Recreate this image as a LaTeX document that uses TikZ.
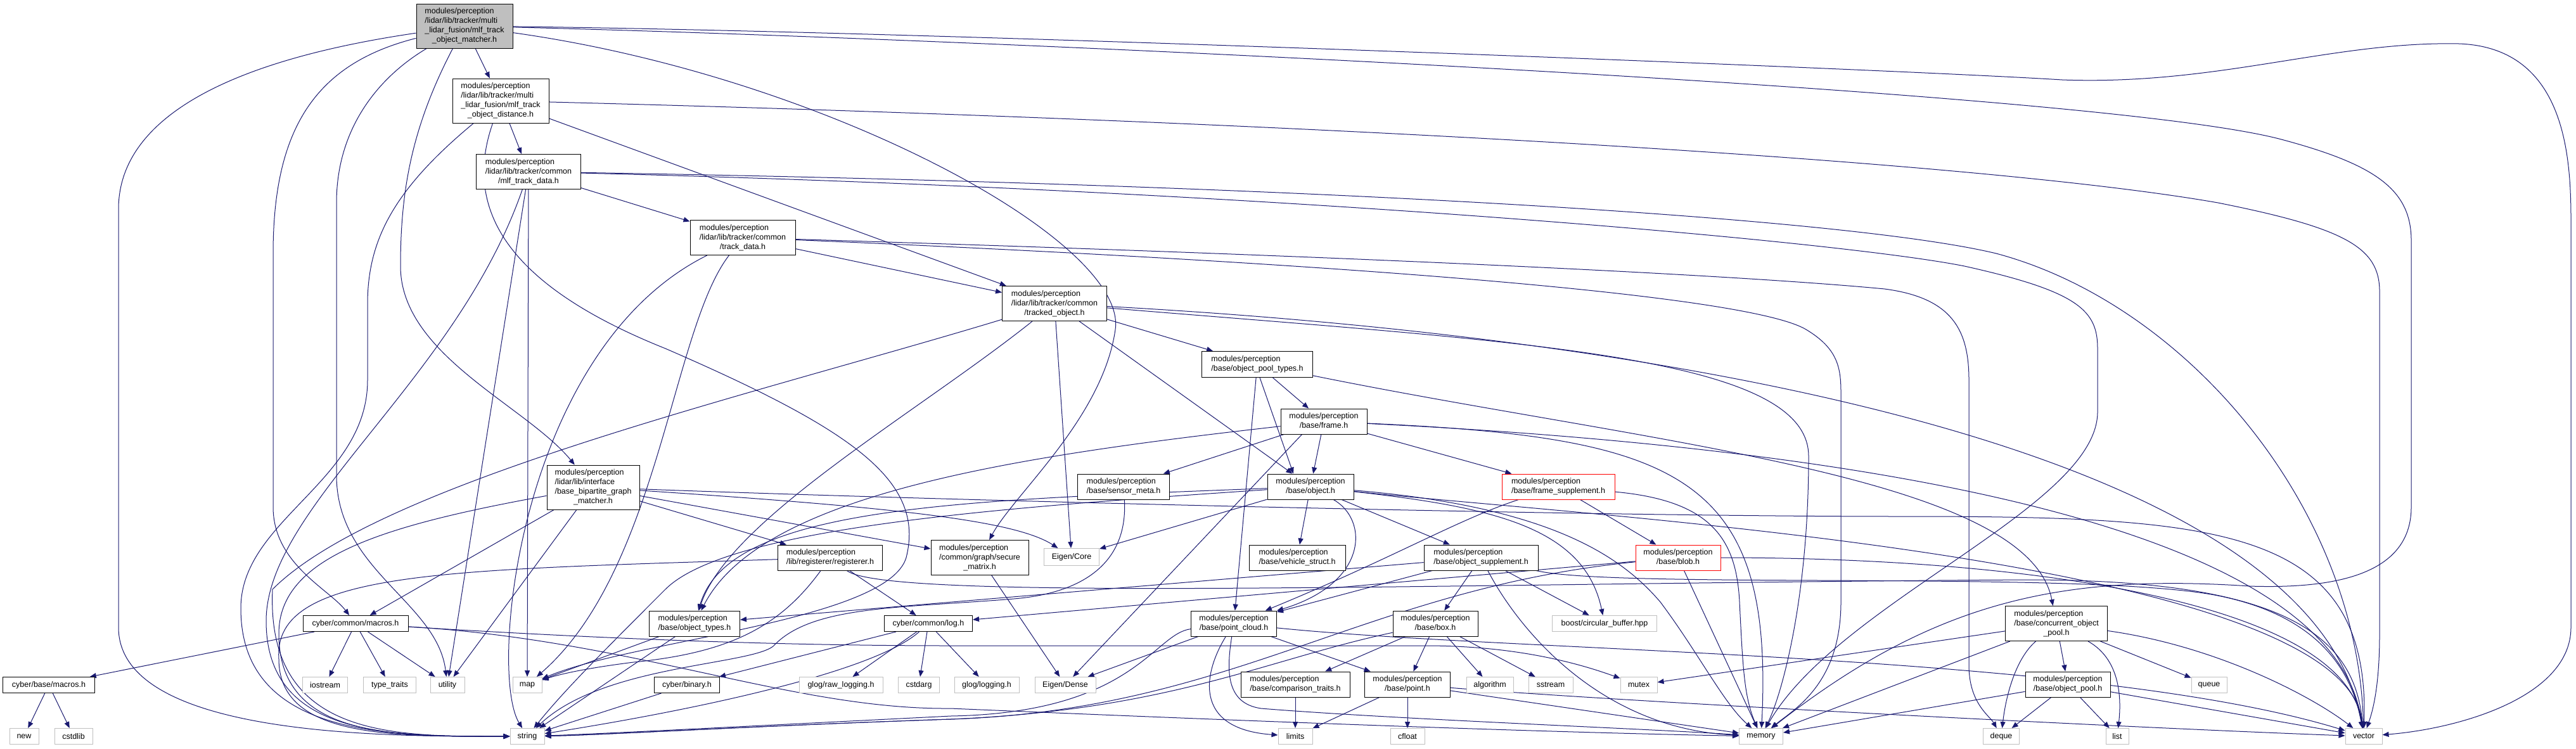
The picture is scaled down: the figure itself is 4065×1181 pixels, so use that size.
\documentclass[tikz,border=0pt]{standalone}
\usepackage{fontspec}
\setmainfont{Liberation Sans}
\usetikzlibrary{arrows.meta,backgrounds}
\definecolor{edgec}{HTML}{191970}
\definecolor{grayb}{HTML}{BFBFBF}
\newcommand{\nlab}[2]{\begin{tabular}{@{}l@{}}#1\\\multicolumn{1}{@{}c@{}}{#2}\end{tabular}}
\tikzset{
  nd/.style={draw=black, fill=white, line width=1pt, inner sep=0pt, minimum height=25pt,
    font=\fontsize{12.5}{15}\selectfont, text=black},
  sys/.style={nd, draw=grayb},
  trunc/.style={nd, draw=red},
  rootn/.style={nd, fill=grayb},
  edg/.style={draw=edgec, line width=1pt, -{Triangle[length=10pt,width=8pt]}}
}
\begin{document}
\begin{tikzpicture}[x=1pt,y=-1pt]
\useasboundingbox (0,0) rectangle (4065,1181);
% ---------- nodes ----------
\node[rootn, minimum width=152pt, minimum height=70pt] (root) at (733,41) {\nlab{modules/perception\\/lidar/lib/tracker/multi\\\_lidar\_fusion/mlf\_track}{\_object\_matcher.h}};
\node[nd, minimum width=152pt, minimum height=70pt] (dist) at (790,159) {\nlab{modules/perception\\/lidar/lib/tracker/multi\\\_lidar\_fusion/mlf\_track}{\_object\_distance.h}};
\node[nd, minimum width=165pt, minimum height=55pt] (mtd) at (834,271) {\nlab{modules/perception\\/lidar/lib/tracker/common}{/mlf\_track\_data.h}};
\node[nd, minimum width=166pt, minimum height=55pt] (td) at (1172,375) {\nlab{modules/perception\\/lidar/lib/tracker/common}{/track\_data.h}};
\node[nd, minimum width=165pt, minimum height=55pt] (tobj) at (1664,479) {\nlab{modules/perception\\/lidar/lib/tracker/common}{/tracked\_object.h}};
\node[nd, minimum width=175pt, minimum height=41pt] (opt) at (1984,575) {\nlab{modules/perception}{/base/object\_pool\_types.h}};
\node[nd, minimum width=136pt, minimum height=40pt] (frame) at (2089,665) {\nlab{modules/perception}{/base/frame.h}};
\node[nd, minimum width=145pt, minimum height=40pt] (smeta) at (1773,768) {\nlab{modules/perception}{/base/sensor\_meta.h}};
\node[nd, minimum width=136pt, minimum height=40pt] (obj) at (2068,768) {\nlab{modules/perception}{/base/object.h}};
\node[trunc, minimum width=178pt, minimum height=40pt] (fsup) at (2459,768) {\nlab{modules/perception}{/base/frame\_supplement.h}};
\node[nd, minimum width=146pt, minimum height=70pt] (bgm) at (936,769) {\nlab{modules/perception\\/lidar/lib/interface\\/base\_bipartite\_graph}{\_matcher.h}};
\node[nd, minimum width=165pt, minimum height=40pt] (reg) at (1310,880) {\nlab{modules/perception}{/lib/registerer/registerer.h}};
\node[nd, minimum width=154pt, minimum height=55pt] (secm) at (1546,880) {\nlab{modules/perception\\/common/graph/secure}{\_matrix.h}};
\node[sys, minimum width=87pt, minimum height=27pt] (ecore) at (1691,879) {Eigen/Core};
\node[nd, minimum width=152pt, minimum height=40pt] (vstruct) at (2047,880) {\nlab{modules/perception}{/base/vehicle\_struct.h}};
\node[nd, minimum width=180pt, minimum height=40pt] (osup) at (2337,880) {\nlab{modules/perception}{/base/object\_supplement.h}};
\node[trunc, minimum width=134pt, minimum height=40pt] (blob) at (2648,880) {\nlab{modules/perception}{/base/blob.h}};
\node[nd, minimum width=166pt] (cmacros) at (561,984) {cyber/common/macros.h};
\node[nd, minimum width=143pt, minimum height=40pt] (otypes) at (1096,984) {\nlab{modules/perception}{/base/object\_types.h}};
\node[nd, minimum width=139pt] (log) at (1465,984) {cyber/common/log.h};
\node[nd, minimum width=135pt, minimum height=40pt] (pcl) at (1947,984) {\nlab{modules/perception}{/base/point\_cloud.h}};
\node[nd, minimum width=134pt, minimum height=40pt] (box) at (2265,984) {\nlab{modules/perception}{/base/box.h}};
\node[sys, minimum width=165pt] (cbuf) at (2532,984) {boost/circular\_buffer.hpp};
\node[nd, minimum width=161pt, minimum height=55pt] (cop) at (3245,984) {\nlab{modules/perception\\/base/concurrent\_object}{\_pool.h}};
\node[nd, minimum width=145pt] (bmacros) at (77,1081) {cyber/base/macros.h};
\node[sys, minimum width=71pt] (iostream) at (513,1081) {iostream};
\node[sys, minimum width=83pt] (ttraits) at (615,1081) {type\_traits};
\node[sys, minimum width=54pt] (utility) at (706,1081) {utility};
\node[sys, minimum width=46pt] (map) at (832,1081) {map};
\node[nd, minimum width=103pt] (binary) at (1084,1081) {cyber/binary.h};
\node[sys, minimum width=132pt] (rawlog) at (1327,1081) {glog/raw\_logging.h};
\node[sys, minimum width=65pt] (cstdarg) at (1450,1081) {cstdarg};
\node[sys, minimum width=102pt] (glog) at (1557,1081) {glog/logging.h};
\node[sys, minimum width=96pt] (edense) at (1681,1081) {Eigen/Dense};
\node[nd, minimum width=172pt, minimum height=40pt] (ctraits) at (2044,1080) {\nlab{modules/perception}{/base/comparison\_traits.h}};
\node[nd, minimum width=135pt, minimum height=40pt] (point) at (2221,1080) {\nlab{modules/perception}{/base/point.h}};
\node[sys, minimum width=74pt] (algo) at (2351,1081) {algorithm};
\node[sys, minimum width=70pt] (sstream) at (2447,1081) {sstream};
\node[sys, minimum width=58pt] (mutex) at (2586,1081) {mutex};
\node[nd, minimum width=134pt, minimum height=40pt] (opool) at (3263,1080) {\nlab{modules/perception}{/base/object\_pool.h}};
\node[sys, minimum width=56pt] (queue) at (3486,1081) {queue};
\node[sys, minimum width=46pt] (new) at (38,1162) {new};
\node[sys, minimum width=60pt] (cstdlib) at (116,1162) {cstdlib};
\node[sys, minimum width=54pt] (string) at (832,1162) {string};
\node[sys, minimum width=54pt] (limits) at (2044,1162) {limits};
\node[sys, minimum width=54pt] (cfloat) at (2221,1162) {cfloat};
\node[sys, minimum width=69pt] (memory) at (2779,1162) {memory};
\node[sys, minimum width=57pt] (deque) at (3158,1162) {deque};
\node[sys, minimum width=36pt] (list) at (3341,1162) {list};
\node[sys, minimum width=58pt] (vector) at (3730,1162) {vector};
% ---------- edges ----------
\begin{pgfonlayer}{background}
\fill[white] (0,0) rectangle (4065,1181);
% root
\draw[edg] (root) .. controls (330,100) and (187,200) .. (187,330) -- (187,990) .. controls (187,1165) and (620,1162) .. (string);
\draw[edg] (root) .. controls (500,100) and (431,200) .. (431,400) -- (431,800) .. controls (431,890) and (520,930) .. (cmacros);
\draw[edg] (root) .. controls (600,120) and (531,200) .. (531,320) -- (531,750) .. controls (531,900) and (690,950) .. (utility);
\draw[edg] (root) .. controls (650,200) and (632,300) .. (632,420) .. controls (632,560) and (830,640) .. (bgm);
\draw[edg] (root) -- (dist);
\draw[edg] (root) .. controls (1500,50) and (3000,110) .. (3254,126) .. controls (3500,135) and (3680,65) .. (3880,69) .. controls (4050,75) and (4057,250) .. (4057,350) -- (4057,990) .. controls (4057,1100) and (3880,1150) .. (vector);
\draw[edg] (root) .. controls (1500,60) and (3300,140) .. (3600,220) .. controls (3750,260) and (3805,300) .. (3805,380) -- (3805,800) .. controls (3805,900) and (3700,930) .. (3550,925) .. controls (3250,905) and (3050,950) .. (memory);
\draw[edg] (root) .. controls (1300,120) and (1780,380) .. (1760,520) .. controls (1740,660) and (1600,780) .. (secm);
% dist
\draw[edg] (dist) -- (mtd);
\draw[edg] (dist) -- (tobj);
\draw[edg] (dist) .. controls (2000,190) and (3100,250) .. (3500,320) .. controls (3700,360) and (3755,390) .. (3755,460) -- (3755,1000) .. controls (3755,1080) and (3745,1120) .. (vector);
\draw[edg] (dist) .. controls (620,300) and (580,380) .. (580,480) -- (580,600) .. controls (580,760) and (380,820) .. (380,960) .. controls (380,1165) and (620,1162) .. (string);
\draw[edg] (dist) .. controls (730,330) and (800,450) .. (1050,550) .. controls (1350,680) and (1460,760) .. (1430,880) .. controls (1400,980) and (1000,1010) .. (map);
% mlf_track_data
\draw[edg] (mtd) -- (td);
\draw[edg] (mtd) .. controls (2000,290) and (2900,340) .. (3150,400) .. controls (3450,480) and (3720,800) .. (vector);
\draw[edg] (mtd) .. controls (2000,300) and (2900,380) .. (3100,420) .. controls (3280,460) and (3310,490) .. (3310,550) -- (3310,650) .. controls (3310,800) and (2900,950) .. (memory);
\draw[edg] (mtd) .. controls (720,600) and (420,800) .. (420,980) .. controls (420,1165) and (620,1162) .. (string);
\draw[edg] (mtd) -- (utility);
\draw[edg] (mtd) -- (map);
% track_data
\draw[edg] (td) -- (tobj);
\draw[edg] (td) .. controls (2000,400) and (2700,430) .. (2974,456) .. controls (3080,470) and (3107,520) .. (3107,600) -- (3107,1050) .. controls (3107,1110) and (3140,1130) .. (deque);
\draw[edg] (td) .. controls (2000,410) and (2750,460) .. (2850,520) .. controls (2900,550) and (2905,580) .. (2905,620) -- (2905,950) .. controls (2905,1080) and (2830,1120) .. (memory);
\draw[edg] (td) .. controls (820,550) and (770,1060) .. (string);
\draw[edg] (td) .. controls (1060,520) and (1040,900) .. (map);
% tracked_object
\draw[edg] (tobj) -- (opt);
\draw[edg] (tobj) -- (obj);
\draw[edg] (tobj) -- (ecore);
\draw[edg] (tobj) .. controls (1450,650) and (1150,820) .. (otypes);
\draw[edg] (tobj) .. controls (1200,620) and (600,760) .. (430,930) .. controls (420,1165) and (620,1162) .. (string);
\draw[edg] (tobj) .. controls (2400,540) and (2854,560) .. (2854,720) .. controls (2854,950) and (2810,1100) .. (memory);
\draw[edg] (tobj) .. controls (2600,530) and (3650,700) .. (vector);
% object_pool_types
\draw[edg] (opt) -- (frame);
\draw[edg] ([xshift=4pt]opt.south) -- ([xshift=-27pt]obj.north);
\draw[edg] (opt) -- (pcl);
\draw[edg] (opt) .. controls (2600,700) and (3200,750) .. (cop);
% frame
\draw[edg] (frame) -- (smeta);
\draw[edg] (frame) -- (obj);
\draw[edg] (frame) -- (fsup);
\draw[edg] ([xshift=34pt]frame.south west) -- (edense);
\draw[edg] (frame) .. controls (1600,720) and (1200,780) .. (otypes);
\draw[edg] (frame) .. controls (2650,690) and (2800,750) .. (memory);
\draw[edg] (frame) .. controls (2800,700) and (3680,800) .. (vector);
% sensor_meta
\draw[edg] (smeta) .. controls (1780,880) and (1720,935) .. (1600,945) .. controls (1420,960) and (1280,955) .. (1220,1020) .. controls (1180,1050) and (950,1050) .. (string);
% object
\draw[edg] (obj) .. controls (1500,790) and (1150,800) .. (otypes);
\draw[edg] (obj) .. controls (1600,800) and (1150,830) .. (1050,930) .. controls (950,1030) and (890,1090) .. (string);
\draw[edg] (obj) -- (ecore);
\draw[edg] (obj) -- (vstruct);
\draw[edg] (obj) .. controls (2160,820) and (2160,920) .. (pcl);
\draw[edg] (obj) -- (osup);
\draw[edg] (obj) .. controls (2350,800) and (2500,830) .. (cbuf);
\draw[edg] (obj) .. controls (2450,800) and (2560,880) .. (2620,950) .. controls (2680,1030) and (2720,1110) .. (memory);
\draw[edg] (obj) .. controls (2500,815) and (3700,880) .. (vector);
% frame_supplement
\draw[edg] (fsup) .. controls (2300,820) and (2200,880) .. (pcl);
\draw[edg] (fsup) -- (blob);
\draw[edg] (fsup) .. controls (2700,790) and (2740,850) .. (2745,950) .. controls (2750,1050) and (2752,1100) .. (memory);
% blob
\draw[edg] (blob) -- (log);
\draw[edg] (blob) .. controls (2150,930) and (1950,1120) .. (1500,1135) .. controls (1200,1145) and (950,1160) .. (string);
\draw[edg] (blob) -- (memory);
\draw[edg] (blob) .. controls (3200,880) and (3700,950) .. (vector);
% secure_matrix
\draw[edg] (secm) -- (edense);
% bipartite
\draw[edg] (bgm) -- (cmacros);
\draw[edg] (bgm) .. controls (600,830) and (440,880) .. (440,1000) .. controls (440,1165) and (620,1162) .. (string);
\draw[edg] (bgm) -- (utility);
\draw[edg] (bgm) -- (reg);
\draw[edg] (bgm) -- (secm);
\draw[edg] (bgm) .. controls (1400,800) and (1600,820) .. (ecore);
\draw[edg] (bgm) .. controls (1500,790) and (2500,815) .. (3000,815) .. controls (3500,815) and (3740,830) .. (vector);
% registerer
\draw[edg] (reg) .. controls (700,900) and (430,900) .. (440,1040) .. controls (440,1165) and (620,1162) .. (string);
\draw[edg] (reg) .. controls (1230,990) and (1150,1030) .. (1000,1045) .. controls (920,1055) and (880,1065) .. (map);
\draw[edg] (reg) -- (log);
\draw[edg] (reg) .. controls (1400,950) and (2300,920) .. (3200,915) .. controls (3600,915) and (3715,1000) .. (vector);
% cyber/common/macros.h
\draw[edg] (cmacros) -- (bmacros);
\draw[edg] (cmacros) -- (iostream);
\draw[edg] (cmacros) -- (ttraits);
\draw[edg] (cmacros) -- (utility);
\draw[edg] (cmacros) .. controls (900,1005) and (1200,1019) .. (1500,1019) -- (2250,1019) .. controls (2400,1019) and (2500,1050) .. (mutex);
\draw[edg] (cmacros) .. controls (1000,1010) and (1250,1120) .. (1500,1118) .. controls (1900,1135) and (2400,1155) .. (memory);
% cyber/base/macros.h
\draw[edg] (bmacros) -- (new);
\draw[edg] (bmacros) -- (cstdlib);
% log
\draw[edg] (log) -- (binary);
\draw[edg] (log) .. controls (1380,1060) and (1100,1120) .. (string);
\draw[edg] (log) -- (rawlog);
\draw[edg] (log) -- (cstdarg);
\draw[edg] (log) -- (glog);
% binary, object_types
\draw[edg] (binary) -- (string);
\draw[edg] (otypes) -- (map);
\draw[edg] (otypes) -- (string);
% object_supplement
\draw[edg] (osup) -- (pcl);
\draw[edg] (osup) -- (box);
\draw[edg] (osup) .. controls (2400,1000) and (2530,1150) .. (memory);
\draw[edg] (osup) -- (cbuf);
\draw[edg] (osup) .. controls (2550,930) and (3300,900) .. (3500,940) .. controls (3650,970) and (3710,1050) .. (vector);
\draw[edg] (osup) -- (otypes);
% point_cloud
\draw[edg] (pcl) .. controls (1820,1000) and (1790,1125) .. (1500,1130) .. controls (1200,1145) and (950,1158) .. (string);
\draw[edg] (pcl) -- (edense);
\draw[edg] (pcl) .. controls (1900,1060) and (1880,1150) .. (limits);
\draw[edg] (pcl) -- (point);
\draw[edg] (pcl) .. controls (1935,1060) and (1935,1110) .. (1990,1118) .. controls (2200,1135) and (2600,1150) .. (memory);
\draw[edg] (pcl) .. controls (2400,1030) and (3300,1030) .. (vector);
% box
\draw[edg] (box) -- (ctraits);
\draw[edg] (box) -- (point);
\draw[edg] (box) -- (algo);
\draw[edg] (box) -- (sstream);
\draw[edg] (box) .. controls (2000,1040) and (1850,1120) .. (1500,1135) .. controls (1200,1145) and (950,1160) .. (string);
% point
\draw[edg] (point) -- (limits);
\draw[edg] (point) -- (cfloat);
\draw[edg] (point) -- (memory);
\draw[edg] (point) .. controls (2600,1110) and (3400,1150) .. (vector);
% comparison_traits
\draw[edg] (ctraits) -- (limits);
% concurrent_object_pool
\draw[edg] (cop) -- (mutex);
\draw[edg] (cop) -- (memory);
\draw[edg] (cop) .. controls (3180,1040) and (3165,1100) .. (deque);
\draw[edg] (cop) -- (opool);
\draw[edg] (cop) .. controls (3345,1040) and (3348,1100) .. (list);
\draw[edg] (cop) -- (queue);
\draw[edg] (cop) .. controls (3500,1020) and (3650,1100) .. (vector);
% object_pool
\draw[edg] (opool) -- (memory);
\draw[edg] (opool) -- (deque);
\draw[edg] (opool) -- (list);
\draw[edg] (opool) -- (vector);
\end{pgfonlayer}
\end{tikzpicture}
\end{document}
